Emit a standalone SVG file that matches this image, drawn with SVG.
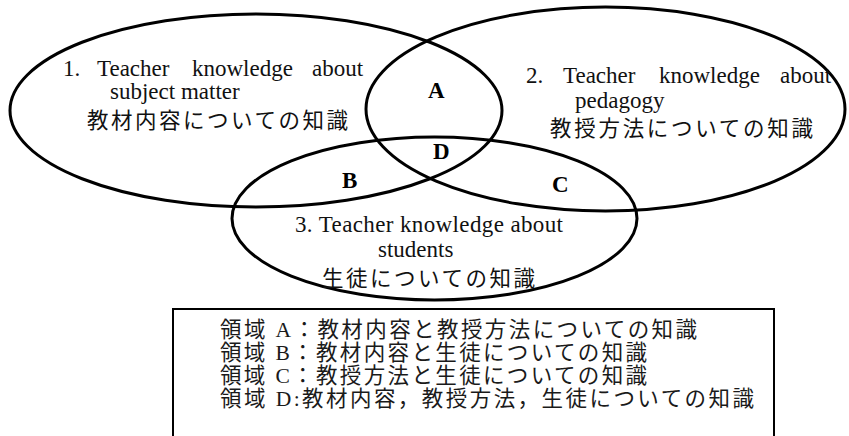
<svg xmlns="http://www.w3.org/2000/svg" width="849" height="436" viewBox="0 0 849 436">
<style>
.ell{fill:none;stroke:#000;stroke-width:3}
.en{font-family:"Liberation Serif","Times New Roman",serif;font-size:23px;fill:#111}
.jp{font-family:"Noto Sans CJK JP","Noto Sans",sans-serif;font-size:21.5px;fill:#111}
.lt{font-family:"Liberation Serif","Times New Roman",serif;font-size:23px;font-weight:bold;fill:#000}
.lg{font-family:"Liberation Serif","Noto Sans CJK JP",serif;font-size:21.5px;fill:#1a1a1a}
.box{fill:#fff;stroke:#000;stroke-width:2}
</style>
<rect width="849" height="436" fill="#fff"/>
<g id="connectors"></g>
<g id="set1">
<ellipse class="ell" cx="256" cy="110.5" rx="246" ry="96.5"/>
<text class="en" y="76"><tspan x="63">1.</tspan><tspan x="97">Teacher</tspan><tspan x="192">knowledge</tspan><tspan x="312">about</tspan></text>
<text class="en" x="110" y="99">subject matter</text>
<text class="jp" x="87" y="128" textLength="261">教材内容についての知識</text>
</g>
<g id="set2">
<ellipse class="ell" cx="605.5" cy="109" rx="239.5" ry="102"/>
<text class="en" y="83"><tspan x="526">2.</tspan><tspan x="563">Teacher</tspan><tspan x="659">knowledge</tspan><tspan x="780">about</tspan></text>
<text class="en" x="575" y="108">pedagogy</text>
<text class="jp" x="550" y="136" textLength="263">教授方法についての知識</text>
</g>
<g id="set3">
<ellipse class="ell" cx="434.5" cy="218.5" rx="202.5" ry="81.5"/>
<text class="en" x="295" y="232" textLength="268">3. Teacher knowledge about</text>
<text class="en" x="378" y="257">students</text>
<text class="jp" x="322" y="286" textLength="213">生徒についての知識</text>
</g>
<g id="regionA"><text class="lt" x="428" y="98">A</text></g>
<g id="regionB"><text class="lt" x="342" y="188">B</text></g>
<g id="regionC"><text class="lt" x="552" y="192">C</text></g>
<g id="regionD"><text class="lt" x="433" y="159">D</text></g>
<g id="legend">
<rect class="box" x="173" y="309" width="601" height="140"/>
<text class="lg" x="220" y="337" textLength="477" lengthAdjust="spacing">領域 A：教材内容と教授方法についての知識</text>
<text class="lg" x="220" y="360" textLength="427" lengthAdjust="spacing">領域 B：教材内容と生徒についての知識</text>
<text class="lg" x="220" y="383" textLength="427" lengthAdjust="spacing">領域 C：教授方法と生徒についての知識</text>
<text class="lg" x="220" y="406" textLength="534" lengthAdjust="spacing">領域 D:教材内容，教授方法，生徒についての知識</text>
</g>
</svg>
